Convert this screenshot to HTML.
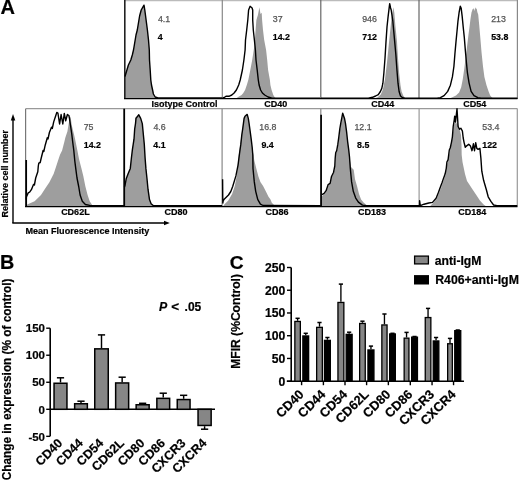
<!DOCTYPE html>
<html><head><meta charset="utf-8"><style>
html,body{margin:0;padding:0;background:#fff;}
svg{display:block;filter:blur(0.4px);}
text{font-family:"Liberation Sans",sans-serif;}
</style></head><body>
<svg width="520" height="481" viewBox="0 0 520 481">
<rect width="520" height="481" fill="#fff"/>
<text x="0.50" y="14.00" font-size="20" font-weight="bold" fill="#000" text-anchor="start" stroke="#000" stroke-width="0.2">A</text>
<polygon points="125.0,98.6 125.0,73.0 126.9,70.0 128.4,65.0 130.8,60.0 132.3,55.0 133.5,50.0 136.0,35.0 137.3,30.0 139.6,16.0 141.2,10.0 144.0,5.2 144.8,10.0 146.1,20.0 147.4,30.0 148.5,40.0 149.3,50.0 149.5,60.0 150.2,70.0 150.8,80.0 151.5,85.0 152.6,90.0 153.4,94.0 155.2,97.0 158.0,98.0 158.0,98.6" fill="#9e9e9e"/>
<polygon points="236.0,98.6 236.0,98.5 238.1,97.0 241.6,95.0 243.3,93.0 245.1,90.0 246.8,85.0 248.3,80.0 250.3,70.0 252.2,60.0 254.5,45.0 255.6,30.0 256.4,20.0 257.9,15.0 259.4,7.2 260.5,14.0 261.7,12.7 262.1,20.0 263.0,30.0 264.2,40.0 266.1,50.0 267.2,60.0 268.1,70.0 269.9,80.0 270.4,85.0 271.6,90.0 273.3,95.0 274.5,97.0 276.0,98.5 276.0,98.6" fill="#9e9e9e"/>
<polygon points="374.0,98.6 374.0,98.6 377.7,97.3 380.8,94.6 382.9,89.4 385.0,79.0 387.0,62.4 389.1,41.6 390.5,28.0 391.5,18.0 393.3,7.3 394.3,12.5 395.3,25.0 397.0,41.6 398.0,58.2 399.1,72.8 400.5,85.2 401.6,91.5 403.2,95.6 404.7,97.7 406.0,98.6 406.0,98.6" fill="#9e9e9e"/>
<polygon points="449.0,98.6 449.0,98.6 451.8,97.6 456.0,95.6 459.1,92.4 461.2,87.2 462.8,78.9 464.3,68.5 465.3,60.2 466.4,51.9 467.4,43.6 468.4,35.3 469.5,27.0 470.5,18.7 471.5,12.5 472.6,9.3 473.6,8.3 474.3,11.0 475.3,7.3 476.1,9.3 476.7,8.3 477.3,12.0 478.2,14.5 479.2,24.9 480.3,37.4 481.5,51.9 483.0,66.5 484.4,76.9 486.5,85.2 488.6,91.4 490.2,95.6 491.9,97.6 493.5,98.6 493.5,98.6" fill="#9e9e9e"/>
<polygon points="26.7,206.3 26.7,206.3 27.2,204.5 34.6,201.3 41.0,195.0 45.2,188.6 49.4,182.3 53.7,173.8 55.8,167.4 57.9,161.0 60.0,154.7 62.1,150.5 63.2,146.3 64.3,142.0 65.3,137.8 67.4,131.4 68.5,125.0 69.5,118.7 70.6,116.6 71.7,125.0 74.8,137.8 77.0,148.4 79.0,159.0 81.2,167.4 83.3,175.9 85.4,186.5 87.6,195.0 89.7,201.3 91.8,204.5 93.0,206.3 93.0,206.3" fill="#9e9e9e"/>
<polygon points="124.6,206.3 124.6,186.0 126.2,178.8 128.2,173.6 130.3,168.4 131.4,158.0 132.4,149.6 134.0,139.2 134.7,128.8 135.5,123.6 135.3,117.4 138.8,115.0 138.8,114.8 140.7,118.4 142.3,123.6 143.3,134.0 144.3,144.4 145.1,158.0 145.9,168.4 147.0,178.8 148.0,189.2 149.5,199.6 151.1,203.7 153.2,205.6 153.2,206.3" fill="#9e9e9e"/>
<polygon points="223.0,206.3 223.0,206.3 224.7,204.1 228.1,200.8 232.1,194.0 234.8,186.0 236.8,175.2 238.8,155.0 240.3,144.4 241.5,135.0 242.5,128.8 243.2,123.6 243.9,118.4 245.0,116.8 247.2,115.0 248.3,118.4 249.1,123.6 250.1,130.9 251.2,139.2 252.2,147.5 253.5,155.0 254.3,160.4 256.3,168.5 258.4,176.5 260.4,181.9 263.1,186.0 265.8,191.3 268.5,196.7 270.5,199.4 271.8,202.8 273.8,204.8 276.5,206.3 276.5,206.3" fill="#9e9e9e"/>
<polygon points="321.5,206.3 321.5,206.3 321.5,196.7 324.1,194.3 326.4,191.0 328.4,184.9 330.4,183.6 331.8,176.8 333.8,172.8 335.1,166.1 335.5,158.3 336.0,153.0 337.0,150.9 338.1,144.7 339.1,137.4 340.1,129.1 341.0,123.9 342.0,118.7 343.0,113.5 342.7,114.0 344.5,118.4 345.5,123.6 346.6,131.9 347.6,141.3 348.7,149.6 349.5,157.0 351.0,167.1 353.7,169.8 355.0,179.2 357.0,186.0 359.0,194.0 361.1,199.4 363.8,202.8 366.5,205.1 368.0,206.3 368.0,206.3" fill="#9e9e9e"/>
<polygon points="430.0,206.3 430.0,206.3 433.0,203.0 436.5,199.0 439.0,193.0 441.0,188.0 443.0,182.0 445.5,175.0 447.0,165.0 448.5,158.0 450.0,150.0 451.5,143.0 452.5,137.0 453.5,128.0 455.0,121.0 456.0,124.0 457.0,122.0 459.5,129.0 461.0,135.0 461.5,145.0 461.7,155.0 462.5,162.0 465.0,174.0 467.0,181.0 469.0,184.0 472.6,189.5 476.3,195.0 479.9,200.4 483.6,204.5 486.0,206.3 486.0,206.3" fill="#9e9e9e"/>
<line x1="124.8" y1="0.6" x2="517.5" y2="0.6" stroke="#bbb" stroke-width="1.3"/>
<line x1="124.8" y1="0" x2="124.8" y2="98.6" stroke="#222" stroke-width="1.6"/>
<line x1="222.3" y1="0" x2="222.3" y2="98.6" stroke="#888" stroke-width="1.2"/>
<line x1="320.8" y1="0" x2="320.8" y2="98.6" stroke="#666" stroke-width="1.2"/>
<line x1="419" y1="0" x2="419" y2="98.6" stroke="#666" stroke-width="1.2"/>
<line x1="517.4" y1="0" x2="517.4" y2="98.6" stroke="#888" stroke-width="1.2"/>
<line x1="124" y1="98.6" x2="517.5" y2="98.6" stroke="#000" stroke-width="1.4"/>
<line x1="25.6" y1="108.7" x2="517.5" y2="108.7" stroke="#999" stroke-width="1.2"/>
<line x1="25.6" y1="108.7" x2="25.6" y2="206.3" stroke="#777" stroke-width="1.2"/>
<line x1="124.2" y1="108.7" x2="124.2" y2="206.3" stroke="#000" stroke-width="1.8"/>
<line x1="222.1" y1="108.7" x2="222.1" y2="206.3" stroke="#888" stroke-width="1.2"/>
<line x1="320.8" y1="108.7" x2="320.8" y2="206.3" stroke="#888" stroke-width="1.2"/>
<line x1="419.1" y1="108.7" x2="419.1" y2="206.3" stroke="#999" stroke-width="1.2"/>
<line x1="517.3" y1="108.7" x2="517.3" y2="206.3" stroke="#999" stroke-width="1.2"/>
<line x1="25" y1="206.5" x2="517.5" y2="206.5" stroke="#000" stroke-width="1.25"/>
<polyline points="125.0,76.5 126.9,70.0 128.4,65.0 130.8,60.0 132.3,55.0 133.5,50.0 136.0,35.0 137.3,30.0 139.6,16.0 141.2,10.0 144.0,5.2 144.8,10.0 146.1,20.0 147.4,30.0 148.5,40.0 149.3,50.0 149.5,60.0 150.2,70.0 150.8,80.0 151.5,85.0 152.6,90.0 153.4,94.0 155.2,97.0 158.0,98.0 222.0,98.0" fill="none" stroke="#000" stroke-width="1.4" stroke-linejoin="round"/>
<polyline points="222.5,98.0 224.3,97.5 226.0,96.3 228.9,96.3 231.8,95.0 234.1,93.0 236.4,90.0 238.7,85.0 240.2,80.0 242.4,70.0 243.9,60.0 245.1,50.0 245.5,40.0 246.7,30.0 247.8,20.0 248.6,10.0 250.1,6.3 252.1,8.0 252.7,10.0 252.7,20.0 253.3,30.0 254.4,40.0 255.4,50.0 256.0,60.0 257.2,70.0 258.3,80.0 259.1,85.0 260.6,90.0 262.4,93.0 264.7,95.0 268.1,97.0 272.0,98.2 320.0,98.2" fill="none" stroke="#000" stroke-width="1.4" stroke-linejoin="round"/>
<polyline points="320.8,98.2 368.3,98.1 372.5,97.3 375.6,96.0 378.3,94.6 380.4,91.5 381.8,88.4 382.9,83.2 383.9,72.8 385.0,58.2 386.0,41.6 387.0,27.0 388.1,16.6 389.1,8.3 389.7,3.7 390.6,8.0 391.2,10.0 392.8,20.8 394.3,37.4 395.8,54.0 397.0,70.7 398.0,83.2 399.1,91.5 400.5,96.0 402.6,97.7 405.0,98.2 419.0,98.2" fill="none" stroke="#000" stroke-width="1.4" stroke-linejoin="round"/>
<polyline points="419.0,98.2 437.0,98.1 440.4,97.6 444.1,95.6 447.7,91.4 450.4,85.2 452.4,76.9 453.9,66.5 454.9,54.0 456.0,41.6 457.0,31.2 458.0,20.8 459.1,12.5 460.3,6.2 461.2,8.3 462.2,16.6 463.2,27.0 464.3,37.4 465.3,49.9 466.4,62.3 467.4,72.7 469.1,83.1 471.1,91.4 474.0,95.6 477.8,97.6 481.0,98.2 517.4,98.2" fill="none" stroke="#000" stroke-width="1.4" stroke-linejoin="round"/>
<polyline points="26.3,199.5 26.4,197.0 28.2,192.9 29.6,192.2 31.4,189.7 33.5,184.4 34.4,185.0 35.7,178.0 37.8,171.7 38.3,166.0 38.8,163.2 40.2,162.5 41.0,159.0 43.1,150.5 43.8,151.5 45.2,145.2 47.3,137.8 48.0,139.0 49.4,132.5 51.5,127.2 52.3,128.5 53.7,121.9 55.8,115.5 56.8,112.4 57.9,113.0 59.6,124.0 61.1,114.5 62.8,124.0 64.3,113.4 65.7,120.8 67.4,114.5 68.9,115.5 69.5,118.7 71.7,133.5 72.7,142.0 73.8,150.5 74.8,161.0 75.9,169.6 77.0,178.0 78.7,186.5 80.1,195.0 82.3,201.3 85.4,204.5 89.7,205.4 124.2,205.6" fill="none" stroke="#000" stroke-width="1.4" stroke-linejoin="round"/>
<polyline points="124.5,187.0 125.1,185.0 126.2,178.8 128.2,173.6 130.3,168.4 131.4,158.0 132.4,149.6 134.0,139.2 134.7,128.8 135.5,123.6 136.0,118.4 138.8,114.8 140.7,118.4 142.3,123.6 143.3,134.0 144.3,144.4 145.1,158.0 145.9,168.4 147.0,178.8 148.0,189.2 149.5,199.6 151.1,203.7 153.2,205.6 222.1,205.6" fill="none" stroke="#000" stroke-width="1.4" stroke-linejoin="round"/>
<polyline points="222.6,179.2 222.8,203.0 223.2,201.0 224.2,199.2 228.5,195.0 230.8,191.5 232.7,186.5 235.9,175.9 238.0,165.3 239.5,153.7 240.8,144.4 241.8,135.0 242.7,128.8 243.4,123.6 244.1,118.4 245.0,116.3 247.2,114.4 248.3,118.4 249.1,123.6 250.1,130.9 251.2,139.2 252.2,147.5 252.8,155.0 253.0,168.5 254.3,181.9 255.7,191.3 257.7,199.4 260.4,204.1 263.1,205.5 320.8,205.6" fill="none" stroke="#000" stroke-width="1.4" stroke-linejoin="round"/>
<polyline points="322.0,194.7 324.1,193.4 326.1,190.7 328.1,184.6 330.1,183.3 331.5,176.5 333.5,172.5 334.8,165.8 335.2,158.0 335.7,152.7 336.7,150.6 337.8,144.4 338.8,137.1 339.8,128.8 340.7,123.6 341.7,118.4 342.7,113.2 344.5,118.4 345.5,123.6 346.6,131.9 347.6,141.3 348.7,149.6 349.5,157.0 350.3,168.5 351.6,181.9 353.3,191.3 355.7,198.1 358.4,202.1 362.4,205.1 366.0,205.6 419.1,205.6" fill="none" stroke="#000" stroke-width="1.4" stroke-linejoin="round"/>
<polyline points="419.5,206.0 419.6,200.6 420.2,205.0 421.0,205.4 424.0,204.2 428.8,203.0 432.5,202.4 436.1,198.2 438.5,192.2 440.3,187.3 442.1,182.5 443.3,178.9 445.1,174.1 446.3,168.1 446.9,162.0 448.1,159.6 449.3,150.0 450.2,148.0 451.4,142.6 452.4,136.8 453.2,126.5 454.3,119.5 454.7,116.1 455.5,122.0 457.0,108.8 458.1,126.5 459.5,129.3 460.9,128.2 462.4,131.1 463.2,138.0 464.1,142.6 465.3,147.2 466.4,146.1 468.7,144.3 470.5,146.1 472.0,150.7 473.4,143.8 474.5,150.7 475.7,142.6 476.8,148.4 478.1,149.3 479.9,148.3 480.9,158.4 481.8,171.2 483.6,180.3 486.3,189.5 488.2,196.8 490.9,201.4 493.6,205.0 497.0,205.6 517.3,205.6" fill="none" stroke="#000" stroke-width="1.4" stroke-linejoin="round"/>
<polyline points="26.2,160.0 26.2,206.0" fill="none" stroke="#000" stroke-width="1.7"/>
<polyline points="321.1,114.8 321.1,206.0" fill="none" stroke="#000" stroke-width="1.7"/>
<text x="157.90" y="21.50" font-size="8.8" font-weight="normal" fill="#555" text-anchor="start" stroke="#555" stroke-width="0.25">4.1</text>
<text x="157.77" y="39.60" font-size="8.8" font-weight="bold" fill="#000" text-anchor="start" stroke="#000" stroke-width="0.2">4</text>
<text x="272.76" y="21.50" font-size="8.8" font-weight="normal" fill="#555" text-anchor="start" stroke="#555" stroke-width="0.25">37</text>
<text x="272.75" y="39.60" font-size="8.8" font-weight="bold" fill="#000" text-anchor="start" stroke="#000" stroke-width="0.2">14.2</text>
<text x="362.19" y="21.50" font-size="8.8" font-weight="normal" fill="#555" text-anchor="start" stroke="#555" stroke-width="0.25">946</text>
<text x="362.32" y="39.60" font-size="8.8" font-weight="bold" fill="#000" text-anchor="start" stroke="#000" stroke-width="0.2">712</text>
<text x="491.16" y="21.50" font-size="8.8" font-weight="normal" fill="#555" text-anchor="start" stroke="#555" stroke-width="0.25">213</text>
<text x="491.23" y="39.60" font-size="8.8" font-weight="bold" fill="#000" text-anchor="start" stroke="#000" stroke-width="0.2">53.8</text>
<text x="83.65" y="129.90" font-size="8.8" font-weight="normal" fill="#555" text-anchor="start" stroke="#555" stroke-width="0.25">75</text>
<text x="83.75" y="148.00" font-size="8.8" font-weight="bold" fill="#000" text-anchor="start" stroke="#000" stroke-width="0.2">14.2</text>
<text x="153.40" y="129.90" font-size="8.8" font-weight="normal" fill="#555" text-anchor="start" stroke="#555" stroke-width="0.25">4.6</text>
<text x="153.37" y="148.00" font-size="8.8" font-weight="bold" fill="#000" text-anchor="start" stroke="#000" stroke-width="0.2">4.1</text>
<text x="259.33" y="129.90" font-size="8.8" font-weight="normal" fill="#555" text-anchor="start" stroke="#555" stroke-width="0.25">16.8</text>
<text x="261.39" y="148.00" font-size="8.8" font-weight="bold" fill="#000" text-anchor="start" stroke="#000" stroke-width="0.2">9.4</text>
<text x="354.43" y="129.90" font-size="8.8" font-weight="normal" fill="#555" text-anchor="start" stroke="#555" stroke-width="0.25">12.1</text>
<text x="357.12" y="148.00" font-size="8.8" font-weight="bold" fill="#000" text-anchor="start" stroke="#000" stroke-width="0.2">8.5</text>
<text x="482.25" y="129.90" font-size="8.8" font-weight="normal" fill="#555" text-anchor="start" stroke="#555" stroke-width="0.25">53.4</text>
<text x="482.25" y="148.00" font-size="8.8" font-weight="bold" fill="#000" text-anchor="start" stroke="#000" stroke-width="0.2">122</text>
<text x="151.50" y="107.30" font-size="9" font-weight="bold" fill="#000" text-anchor="start" stroke="#000" stroke-width="0.2">Isotype Control</text>
<text x="264.23" y="107.30" font-size="9" font-weight="bold" fill="#000" text-anchor="start" stroke="#000" stroke-width="0.2">CD40</text>
<text x="371.23" y="107.30" font-size="9" font-weight="bold" fill="#000" text-anchor="start" stroke="#000" stroke-width="0.2">CD44</text>
<text x="463.33" y="107.30" font-size="9" font-weight="bold" fill="#000" text-anchor="start" stroke="#000" stroke-width="0.2">CD54</text>
<text x="61.13" y="214.90" font-size="9" font-weight="bold" fill="#000" text-anchor="start" stroke="#000" stroke-width="0.2">CD62L</text>
<text x="164.53" y="214.90" font-size="9" font-weight="bold" fill="#000" text-anchor="start" stroke="#000" stroke-width="0.2">CD80</text>
<text x="265.43" y="214.90" font-size="9" font-weight="bold" fill="#000" text-anchor="start" stroke="#000" stroke-width="0.2">CD86</text>
<text x="358.03" y="214.90" font-size="9" font-weight="bold" fill="#000" text-anchor="start" stroke="#000" stroke-width="0.2">CD183</text>
<text x="458.33" y="214.90" font-size="9" font-weight="bold" fill="#000" text-anchor="start" stroke="#000" stroke-width="0.2">CD184</text>
<line x1="13" y1="120" x2="13" y2="223" stroke="#000" stroke-width="1.4"/>
<polygon points="13,114 10.8,120.5 15.3,120.5" fill="#000"/>
<line x1="12.3" y1="223" x2="165" y2="223" stroke="#000" stroke-width="1.4"/>
<polygon points="169.8,223 164,220.8 164,225.2" fill="#000"/>
<text x="8.50" y="217.60" font-size="9" font-weight="bold" fill="#000" text-anchor="start" transform="rotate(-90 8.50 217.60)" stroke="#000" stroke-width="0.2">Relative cell number</text>
<text x="25.39" y="234.00" font-size="9.07" font-weight="bold" fill="#000" text-anchor="start" stroke="#000" stroke-width="0.2">Mean Fluorescence Intensity</text>
<text x="-0.02" y="268.60" font-size="19.8" font-weight="bold" fill="#000" text-anchor="start" stroke="#000" stroke-width="0.2">B</text>
<text transform="translate(10.9 480.2) rotate(-90) scale(1 1.1)" x="0" y="0" font-size="11.8" font-weight="bold" fill="#000" stroke="#000" stroke-width="0.2">Change in expression (% of control)</text>
<line x1="50.2" y1="328.19500000000005" x2="50.2" y2="436.33500000000004" stroke="#000" stroke-width="1.6"/>
<line x1="46.2" y1="328.19500000000005" x2="50.2" y2="328.19500000000005" stroke="#000" stroke-width="1.4"/>
<text x="45.00" y="332.40" font-size="11.5" font-weight="bold" fill="#000" text-anchor="end" stroke="#000" stroke-width="0.2">150</text>
<line x1="46.2" y1="355.23" x2="50.2" y2="355.23" stroke="#000" stroke-width="1.4"/>
<text x="45.00" y="359.43" font-size="11.5" font-weight="bold" fill="#000" text-anchor="end" stroke="#000" stroke-width="0.2">100</text>
<line x1="46.2" y1="382.265" x2="50.2" y2="382.265" stroke="#000" stroke-width="1.4"/>
<text x="45.00" y="386.46" font-size="11.5" font-weight="bold" fill="#000" text-anchor="end" stroke="#000" stroke-width="0.2">50</text>
<line x1="46.2" y1="409.3" x2="50.2" y2="409.3" stroke="#000" stroke-width="1.4"/>
<text x="45.00" y="413.50" font-size="11.5" font-weight="bold" fill="#000" text-anchor="end" stroke="#000" stroke-width="0.2">0</text>
<line x1="46.2" y1="436.33500000000004" x2="50.2" y2="436.33500000000004" stroke="#000" stroke-width="1.4"/>
<text x="45.00" y="440.54" font-size="11.5" font-weight="bold" fill="#000" text-anchor="end" stroke="#000" stroke-width="0.2">-50</text>
<line x1="50.2" y1="409.3" x2="215" y2="409.3" stroke="#000" stroke-width="1.6"/>
<line x1="60.5" y1="377.8" x2="60.5" y2="382.5" stroke="#000" stroke-width="1.45"/>
<line x1="56.9" y1="377.8" x2="64.1" y2="377.8" stroke="#000" stroke-width="1.5"/>
<rect x="54.05" y="383.25" width="12.90" height="26.05" fill="#868686" stroke="#000" stroke-width="1.5"/>
<line x1="81.0" y1="401.2" x2="81.0" y2="403.0" stroke="#000" stroke-width="1.45"/>
<line x1="77.4" y1="401.2" x2="84.6" y2="401.2" stroke="#000" stroke-width="1.5"/>
<rect x="74.65" y="403.75" width="12.70" height="5.55" fill="#868686" stroke="#000" stroke-width="1.5"/>
<line x1="101.5" y1="334.9" x2="101.5" y2="348.1" stroke="#000" stroke-width="1.45"/>
<line x1="97.9" y1="334.9" x2="105.1" y2="334.9" stroke="#000" stroke-width="1.5"/>
<rect x="94.75" y="348.85" width="13.50" height="60.45" fill="#868686" stroke="#000" stroke-width="1.5"/>
<line x1="122.15" y1="377.2" x2="122.15" y2="382.2" stroke="#000" stroke-width="1.45"/>
<line x1="118.55000000000001" y1="377.2" x2="125.75" y2="377.2" stroke="#000" stroke-width="1.5"/>
<rect x="115.65" y="382.95" width="13.00" height="26.35" fill="#868686" stroke="#000" stroke-width="1.5"/>
<line x1="142.65" y1="403.3" x2="142.65" y2="404.0" stroke="#000" stroke-width="1.45"/>
<line x1="139.05" y1="403.3" x2="146.25" y2="403.3" stroke="#000" stroke-width="1.5"/>
<rect x="136.15" y="404.75" width="13.00" height="4.55" fill="#868686" stroke="#000" stroke-width="1.5"/>
<line x1="163.25" y1="393.2" x2="163.25" y2="397.6" stroke="#000" stroke-width="1.45"/>
<line x1="159.65" y1="393.2" x2="166.85" y2="393.2" stroke="#000" stroke-width="1.5"/>
<rect x="156.85" y="398.35" width="12.80" height="10.95" fill="#868686" stroke="#000" stroke-width="1.5"/>
<line x1="183.65" y1="395.3" x2="183.65" y2="398.8" stroke="#000" stroke-width="1.45"/>
<line x1="180.05" y1="395.3" x2="187.25" y2="395.3" stroke="#000" stroke-width="1.5"/>
<rect x="177.25" y="399.55" width="12.80" height="9.75" fill="#868686" stroke="#000" stroke-width="1.5"/>
<line x1="204.60000000000002" y1="429.2" x2="204.60000000000002" y2="426.2" stroke="#000" stroke-width="1.45"/>
<line x1="201.00000000000003" y1="429.2" x2="208.20000000000002" y2="429.2" stroke="#000" stroke-width="1.5"/>
<rect x="198.05" y="409.30" width="13.10" height="16.15" fill="#868686" stroke="#000" stroke-width="1.5"/>
<text x="63.20" y="443.80" font-size="12.5" font-weight="bold" fill="#000" text-anchor="end" transform="rotate(-45 63.20 443.80)" stroke="#000" stroke-width="0.2">CD40</text>
<text x="83.70" y="443.80" font-size="12.5" font-weight="bold" fill="#000" text-anchor="end" transform="rotate(-45 83.70 443.80)" stroke="#000" stroke-width="0.2">CD44</text>
<text x="104.20" y="443.80" font-size="12.5" font-weight="bold" fill="#000" text-anchor="end" transform="rotate(-45 104.20 443.80)" stroke="#000" stroke-width="0.2">CD54</text>
<text x="124.85" y="443.80" font-size="12.5" font-weight="bold" fill="#000" text-anchor="end" transform="rotate(-45 124.85 443.80)" stroke="#000" stroke-width="0.2">CD62L</text>
<text x="145.35" y="443.80" font-size="12.5" font-weight="bold" fill="#000" text-anchor="end" transform="rotate(-45 145.35 443.80)" stroke="#000" stroke-width="0.2">CD80</text>
<text x="165.95" y="443.80" font-size="12.5" font-weight="bold" fill="#000" text-anchor="end" transform="rotate(-45 165.95 443.80)" stroke="#000" stroke-width="0.2">CD86</text>
<text x="186.35" y="443.80" font-size="12.5" font-weight="bold" fill="#000" text-anchor="end" transform="rotate(-45 186.35 443.80)" stroke="#000" stroke-width="0.2">CXCR3</text>
<text x="207.30" y="443.80" font-size="12.5" font-weight="bold" fill="#000" text-anchor="end" transform="rotate(-45 207.30 443.80)" stroke="#000" stroke-width="0.2">CXCR4</text>
<text x="159.0" y="310.6" font-size="12.3" font-weight="bold" font-style="italic" stroke="#000" stroke-width="0.2">P</text>
<text x="171.13" y="310.60" font-size="13.5" font-weight="bold" fill="#000" text-anchor="start" stroke="#000" stroke-width="0.2">&lt;</text>
<text x="184.59" y="310.60" font-size="12.0" font-weight="bold" fill="#000" text-anchor="start" stroke="#000" stroke-width="0.2">.05</text>
<text x="229.81" y="268.60" font-size="19.2" font-weight="bold" fill="#000" text-anchor="start" stroke="#000" stroke-width="0.2">C</text>
<text x="239.60" y="368.80" font-size="12.1" font-weight="bold" fill="#000" text-anchor="start" transform="rotate(-90 239.60 368.80)" stroke="#000" stroke-width="0.2">MFIR (%Control)</text>
<line x1="291.2" y1="267.5" x2="291.2" y2="381.2" stroke="#000" stroke-width="1.6"/>
<line x1="287" y1="267.5" x2="291.2" y2="267.5" stroke="#000" stroke-width="1.4"/>
<text x="285.30" y="271.80" font-size="12.2" font-weight="bold" fill="#000" text-anchor="end" stroke="#000" stroke-width="0.2">250</text>
<line x1="287" y1="290.24" x2="291.2" y2="290.24" stroke="#000" stroke-width="1.4"/>
<text x="285.30" y="294.54" font-size="12.2" font-weight="bold" fill="#000" text-anchor="end" stroke="#000" stroke-width="0.2">200</text>
<line x1="287" y1="312.98" x2="291.2" y2="312.98" stroke="#000" stroke-width="1.4"/>
<text x="285.30" y="317.28" font-size="12.2" font-weight="bold" fill="#000" text-anchor="end" stroke="#000" stroke-width="0.2">150</text>
<line x1="287" y1="335.71999999999997" x2="291.2" y2="335.71999999999997" stroke="#000" stroke-width="1.4"/>
<text x="285.30" y="340.02" font-size="12.2" font-weight="bold" fill="#000" text-anchor="end" stroke="#000" stroke-width="0.2">100</text>
<line x1="287" y1="358.46" x2="291.2" y2="358.46" stroke="#000" stroke-width="1.4"/>
<text x="285.30" y="362.76" font-size="12.2" font-weight="bold" fill="#000" text-anchor="end" stroke="#000" stroke-width="0.2">50</text>
<line x1="287" y1="381.2" x2="291.2" y2="381.2" stroke="#000" stroke-width="1.4"/>
<text x="285.30" y="385.50" font-size="12.2" font-weight="bold" fill="#000" text-anchor="end" stroke="#000" stroke-width="0.2">0</text>
<line x1="286.8" y1="381.2" x2="464" y2="381.2" stroke="#000" stroke-width="1.6"/>
<line x1="297.6" y1="318.3" x2="297.6" y2="320.8" stroke="#000" stroke-width="1.35"/>
<line x1="295.5" y1="318.3" x2="299.70000000000005" y2="318.3" stroke="#000" stroke-width="1.5"/>
<rect x="294.85" y="321.45" width="5.50" height="59.75" fill="#868686" stroke="#000" stroke-width="1.3"/>
<line x1="305.75" y1="333.3" x2="305.75" y2="335.3" stroke="#000" stroke-width="1.35"/>
<line x1="303.65" y1="333.3" x2="307.85" y2="333.3" stroke="#000" stroke-width="1.5"/>
<rect x="302.85" y="335.95" width="5.80" height="45.25" fill="#000" stroke="#000" stroke-width="1.3"/>
<line x1="301.6" y1="381.2" x2="301.6" y2="385.2" stroke="#000" stroke-width="1.4"/>
<text x="304.60" y="395.10" font-size="12.9" font-weight="bold" fill="#000" text-anchor="end" transform="rotate(-45 304.60 395.10)" stroke="#000" stroke-width="0.2">CD40</text>
<line x1="319.5" y1="322.5" x2="319.5" y2="326.7" stroke="#000" stroke-width="1.35"/>
<line x1="317.4" y1="322.5" x2="321.6" y2="322.5" stroke="#000" stroke-width="1.5"/>
<rect x="316.65" y="327.35" width="5.70" height="53.85" fill="#868686" stroke="#000" stroke-width="1.3"/>
<line x1="327.4" y1="337.5" x2="327.4" y2="339.7" stroke="#000" stroke-width="1.35"/>
<line x1="325.29999999999995" y1="337.5" x2="329.5" y2="337.5" stroke="#000" stroke-width="1.5"/>
<rect x="324.45" y="340.35" width="5.90" height="40.85" fill="#000" stroke="#000" stroke-width="1.3"/>
<line x1="323.4" y1="381.2" x2="323.4" y2="385.2" stroke="#000" stroke-width="1.4"/>
<text x="326.40" y="395.10" font-size="12.9" font-weight="bold" fill="#000" text-anchor="end" transform="rotate(-45 326.40 395.10)" stroke="#000" stroke-width="0.2">CD44</text>
<line x1="340.9" y1="284.1" x2="340.9" y2="301.8" stroke="#000" stroke-width="1.35"/>
<line x1="338.79999999999995" y1="284.1" x2="343.0" y2="284.1" stroke="#000" stroke-width="1.5"/>
<rect x="337.95" y="302.45" width="5.90" height="78.75" fill="#868686" stroke="#000" stroke-width="1.3"/>
<line x1="349.15" y1="332.2" x2="349.15" y2="333.7" stroke="#000" stroke-width="1.35"/>
<line x1="347.04999999999995" y1="332.2" x2="351.25" y2="332.2" stroke="#000" stroke-width="1.5"/>
<rect x="346.15" y="334.35" width="6.00" height="46.85" fill="#000" stroke="#000" stroke-width="1.3"/>
<line x1="345.0" y1="381.2" x2="345.0" y2="385.2" stroke="#000" stroke-width="1.4"/>
<text x="348.00" y="395.10" font-size="12.9" font-weight="bold" fill="#000" text-anchor="end" transform="rotate(-45 348.00 395.10)" stroke="#000" stroke-width="0.2">CD54</text>
<line x1="362.45" y1="321.2" x2="362.45" y2="322.8" stroke="#000" stroke-width="1.35"/>
<line x1="360.34999999999997" y1="321.2" x2="364.55" y2="321.2" stroke="#000" stroke-width="1.5"/>
<rect x="359.65" y="323.45" width="5.60" height="57.75" fill="#868686" stroke="#000" stroke-width="1.3"/>
<line x1="370.95000000000005" y1="346.1" x2="370.95000000000005" y2="349.3" stroke="#000" stroke-width="1.35"/>
<line x1="368.85" y1="346.1" x2="373.05000000000007" y2="346.1" stroke="#000" stroke-width="1.5"/>
<rect x="367.95" y="349.95" width="6.00" height="31.25" fill="#000" stroke="#000" stroke-width="1.3"/>
<line x1="366.6" y1="381.2" x2="366.6" y2="385.2" stroke="#000" stroke-width="1.4"/>
<text x="369.60" y="395.10" font-size="12.9" font-weight="bold" fill="#000" text-anchor="end" transform="rotate(-45 369.60 395.10)" stroke="#000" stroke-width="0.2">CD62L</text>
<line x1="384.45" y1="314.0" x2="384.45" y2="324.3" stroke="#000" stroke-width="1.35"/>
<line x1="382.34999999999997" y1="314.0" x2="386.55" y2="314.0" stroke="#000" stroke-width="1.5"/>
<rect x="381.85" y="324.95" width="5.20" height="56.25" fill="#868686" stroke="#000" stroke-width="1.3"/>
<line x1="392.5" y1="333.3" x2="392.5" y2="333.3" stroke="#000" stroke-width="1.35"/>
<line x1="390.4" y1="333.3" x2="394.6" y2="333.3" stroke="#000" stroke-width="1.5"/>
<rect x="389.65" y="333.95" width="5.70" height="47.25" fill="#000" stroke="#000" stroke-width="1.3"/>
<line x1="388.35" y1="381.2" x2="388.35" y2="385.2" stroke="#000" stroke-width="1.4"/>
<text x="391.35" y="395.10" font-size="12.9" font-weight="bold" fill="#000" text-anchor="end" transform="rotate(-45 391.35 395.10)" stroke="#000" stroke-width="0.2">CD80</text>
<line x1="406.55" y1="332.4" x2="406.55" y2="337.5" stroke="#000" stroke-width="1.35"/>
<line x1="404.45" y1="332.4" x2="408.65000000000003" y2="332.4" stroke="#000" stroke-width="1.5"/>
<rect x="404.15" y="338.15" width="4.80" height="43.05" fill="#868686" stroke="#000" stroke-width="1.3"/>
<line x1="414.55" y1="336.5" x2="414.55" y2="336.5" stroke="#000" stroke-width="1.35"/>
<line x1="412.45" y1="336.5" x2="416.65000000000003" y2="336.5" stroke="#000" stroke-width="1.5"/>
<rect x="411.65" y="337.15" width="5.80" height="44.05" fill="#000" stroke="#000" stroke-width="1.3"/>
<line x1="410.3" y1="381.2" x2="410.3" y2="385.2" stroke="#000" stroke-width="1.4"/>
<text x="413.30" y="395.10" font-size="12.9" font-weight="bold" fill="#000" text-anchor="end" transform="rotate(-45 413.30 395.10)" stroke="#000" stroke-width="0.2">CD86</text>
<line x1="428.05" y1="308.4" x2="428.05" y2="316.9" stroke="#000" stroke-width="1.35"/>
<line x1="425.95" y1="308.4" x2="430.15000000000003" y2="308.4" stroke="#000" stroke-width="1.5"/>
<rect x="425.25" y="317.55" width="5.60" height="63.65" fill="#868686" stroke="#000" stroke-width="1.3"/>
<line x1="436.05" y1="337.5" x2="436.05" y2="340.3" stroke="#000" stroke-width="1.35"/>
<line x1="433.95" y1="337.5" x2="438.15000000000003" y2="337.5" stroke="#000" stroke-width="1.5"/>
<rect x="433.25" y="340.95" width="5.60" height="40.25" fill="#000" stroke="#000" stroke-width="1.3"/>
<line x1="432.05" y1="381.2" x2="432.05" y2="385.2" stroke="#000" stroke-width="1.4"/>
<text x="435.05" y="395.10" font-size="12.9" font-weight="bold" fill="#000" text-anchor="end" transform="rotate(-45 435.05 395.10)" stroke="#000" stroke-width="0.2">CXCR3</text>
<line x1="450.0" y1="338.4" x2="450.0" y2="343.1" stroke="#000" stroke-width="1.35"/>
<line x1="447.9" y1="338.4" x2="452.1" y2="338.4" stroke="#000" stroke-width="1.5"/>
<rect x="447.65" y="343.75" width="4.70" height="37.45" fill="#868686" stroke="#000" stroke-width="1.3"/>
<line x1="457.75" y1="330.0" x2="457.75" y2="330.0" stroke="#000" stroke-width="1.35"/>
<line x1="455.65" y1="330.0" x2="459.85" y2="330.0" stroke="#000" stroke-width="1.5"/>
<rect x="454.75" y="330.65" width="6.00" height="50.55" fill="#000" stroke="#000" stroke-width="1.3"/>
<line x1="453.55" y1="381.2" x2="453.55" y2="385.2" stroke="#000" stroke-width="1.4"/>
<text x="456.55" y="395.10" font-size="12.9" font-weight="bold" fill="#000" text-anchor="end" transform="rotate(-45 456.55 395.10)" stroke="#000" stroke-width="0.2">CXCR4</text>
<rect x="414.60" y="256.10" width="13.80" height="7.80" fill="#868686" stroke="#000" stroke-width="1.3"/>
<rect x="414.00" y="275.10" width="15.00" height="9.40" fill="#000"/>
<text x="434.74" y="264.50" font-size="12.2" font-weight="bold" fill="#000" text-anchor="start" stroke="#000" stroke-width="0.2">anti-IgM</text>
<text x="435.18" y="283.70" font-size="12.3" font-weight="bold" fill="#000" text-anchor="start" stroke="#000" stroke-width="0.2">R406+anti-IgM</text>
</svg>
</body></html>
